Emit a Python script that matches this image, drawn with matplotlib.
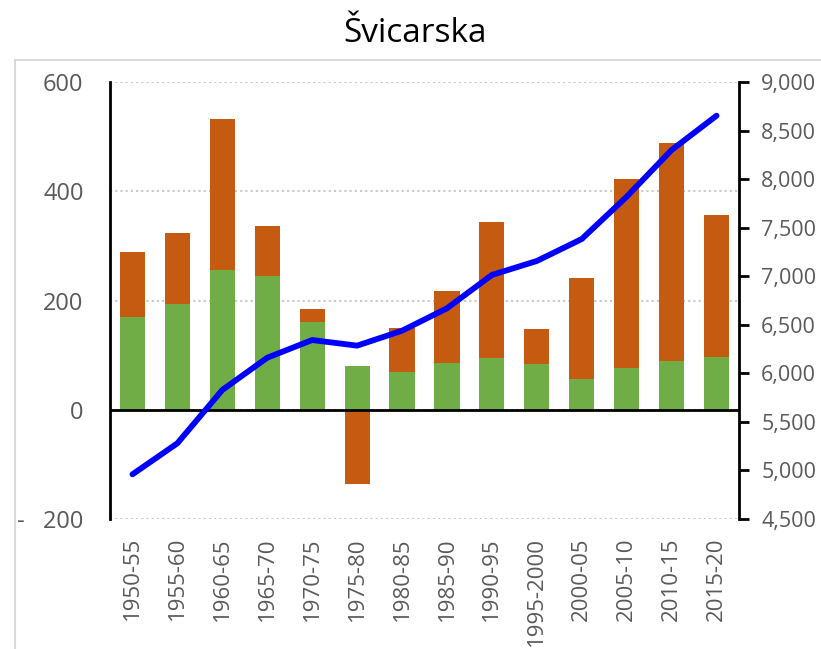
import matplotlib
matplotlib.use("Agg")
import matplotlib.pyplot as plt
from matplotlib.patches import Rectangle
from matplotlib.ticker import FuncFormatter, MultipleLocator

plt.rcParams["font.family"] = ["Open Sans", "DejaVu Sans"]

# ---------------------------------------------------------------------------
# Data
# ---------------------------------------------------------------------------
periods = ["1950-55", "1955-60", "1960-65", "1965-70", "1970-75", "1975-80",
           "1980-85", "1985-90", "1990-95", "1995-2000", "2000-05", "2005-10",
           "2010-15", "2015-20"]
natural = [169, 194, 255, 244, 161, 81, 70, 86, 95, 83, 56, 77, 89, 97]
migration = [119, 129, 277, 93, 24, -136, 80, 131, 248, 64, 186, 345, 399, 260]
population = [4960, 5280, 5829, 6161, 6343, 6285, 6439, 6670, 7013, 7157,
              7383, 7819, 8300, 8653]

GREEN = "#70AD47"
ORANGE = "#C55A11"
BLUE = "#0000FF"
GREY = "#595959"

# ---------------------------------------------------------------------------
# Plot
# ---------------------------------------------------------------------------
fig = plt.figure(figsize=(8.21, 6.49), dpi=100)
ax = fig.add_axes([110 / 821, 1 - 519 / 649, (739 - 110) / 821, (519 - 82) / 649])

x = list(range(len(periods)))
bottoms = [n if m >= 0 else 0 for n, m in zip(natural, migration)]
ax.bar(x, natural, width=0.56, color=GREEN, zorder=2)
ax.bar(x, migration, width=0.56, bottom=bottoms, color=ORANGE, zorder=2)

ax.set_xlim(-0.5, len(periods) - 0.5)
ax.set_ylim(-200, 600)
ax.yaxis.set_major_locator(MultipleLocator(200))
ax.yaxis.set_major_formatter(FuncFormatter(
    lambda v, p: f"-   {abs(int(v))}" if v < 0 else f"{int(v)}"))
ax.grid(axis="y", color="#c8c8c8", linestyle=(0, (1, 1.5)), linewidth=1.5, zorder=0)
ax.axhline(0, color="black", linewidth=2, zorder=3)

for side in ["top", "right", "bottom"]:
    ax.spines[side].set_visible(False)
ax.spines["left"].set_linewidth(2)
ax.tick_params(axis="y", length=0, pad=19, labelsize=17, labelcolor=GREY)
ax.set_xticks(x)
ax.set_xticklabels(periods, rotation=90)
ax.tick_params(axis="x", length=0, pad=13, labelsize=16, labelcolor=GREY)

ax2 = ax.twinx()
ax2.plot(x, population, color=BLUE, linewidth=4.2, solid_capstyle="round",
         solid_joinstyle="round", zorder=5)
ax2.set_ylim(4500, 9000)
ax2.yaxis.set_major_locator(MultipleLocator(500))
ax2.yaxis.set_major_formatter(FuncFormatter(lambda v, p: f"{int(v):,}"))
for side in ["top", "left", "bottom"]:
    ax2.spines[side].set_visible(False)
ax2.spines["right"].set_linewidth(2)
ax2.tick_params(axis="y", direction="out", length=7, width=2, pad=9,
                labelsize=15.5, labelcolor=GREY)

fig.text(0.505, 1 - 33 / 649, "Švicarska", ha="center", va="center", fontsize=24)

# chart-area border
fig.add_artist(Rectangle((15 / 821, -0.1), 1.2, 1.1 - 60 / 649,
                         transform=fig.transFigure, fill=False,
                         edgecolor="#d9d9d9", linewidth=1.5))

fig.savefig("out.png", dpi=100)
plt.close(fig)
